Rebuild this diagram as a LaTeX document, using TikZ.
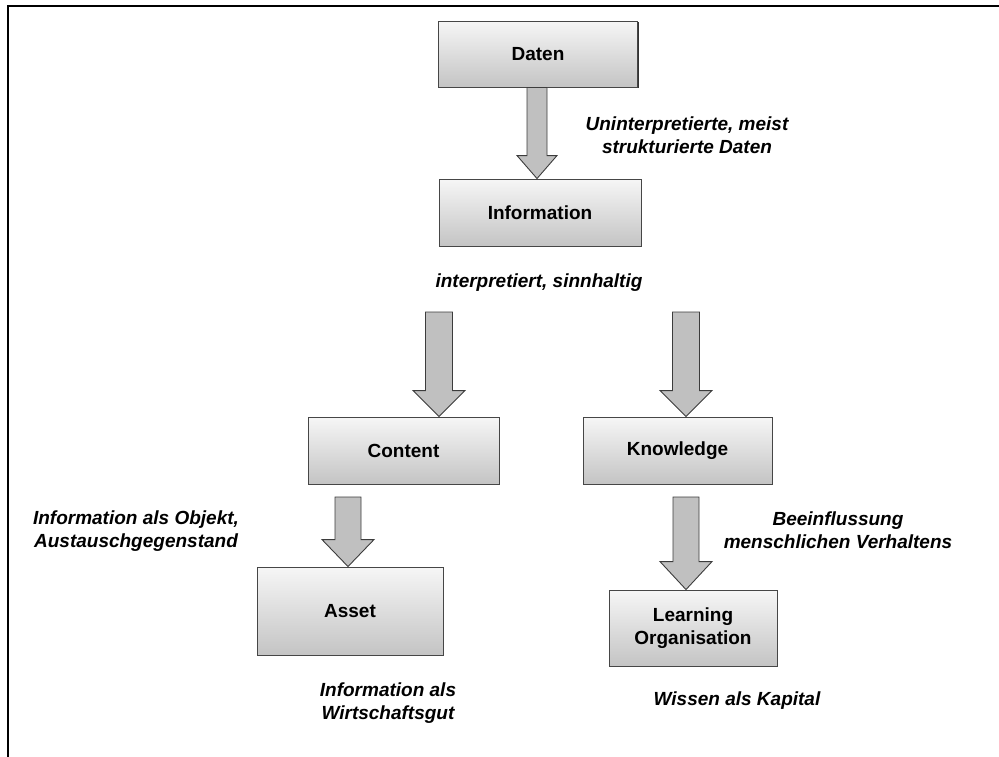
\documentclass[tikz,border=0pt]{standalone}
\usepackage{fontspec}
\setmainfont{Liberation Sans}
\usetikzlibrary{calc,shadows}

\definecolor{boxtop}{RGB}{246,246,246}
\definecolor{boxbottom}{RGB}{196,196,196}
\definecolor{boxline}{RGB}{70,70,70}
\definecolor{arrowfill}{RGB}{192,192,192}
\definecolor{arrowline}{RGB}{60,60,60}

\tikzset{
  stage/.style={draw=boxline, line width=0.9pt, top color=boxtop, bottom color=boxbottom,
    inner sep=0pt, align=center, font=\fontsize{19}{23}\selectfont\bfseries,
    drop shadow={shadow xshift=1.3pt, shadow yshift=-1.3pt, fill=black!80, opacity=1}},
  note/.style={inner sep=0pt, align=center, font=\fontsize{19}{23}\selectfont\bfseries\itshape},
  blockarrow/.style={draw=arrowline, line width=0.9pt, fill=arrowfill, line join=miter},
}

% vertical block arrow: #1 tail coordinate, #2 target node,
% #3 shaft half width, #4 head half width, #5 head length
\newcommand\blockarr[5]{%
  \path[blockarrow] let \p1=(#1), \p2=(#1 |- #2.north) in
    (\x1-#3pt,\y1) -- (\x1+#3pt,\y1) -- (\x1+#3pt,\y2+#5pt) -- (\x1+#4pt,\y2+#5pt)
    -- (\x2,\y2) -- (\x1-#4pt,\y2+#5pt) -- (\x1-#3pt,\y2+#5pt) -- cycle;}

\begin{document}
\begin{tikzpicture}[x=1pt,y=-1pt]
\useasboundingbox (0,0) rectangle (999,756);

% outer frame (top and left edges)
\draw[line width=2.6pt] (8,760) -- (8,6) -- (1003,6);

% stages
\node[stage, minimum width=199pt, minimum height=66pt] (daten) at (538,54) {Daten};
\node[stage, minimum width=202pt, minimum height=67pt] (info) at (540,212.5) {Information};
\node[stage, minimum width=191pt, minimum height=67pt] (content) at (403.5,450.5) {Content};
\node[stage, minimum width=189pt, minimum height=67pt] (knowledge) at (677.5,450.5) {Knowledge};
\node[stage, minimum width=186pt, minimum height=88pt] (asset) at (350,611) {Asset};
\node[stage, minimum width=168pt, minimum height=76pt] (learning) at (693,628) {Learning\\Organisation};

% annotations
\node[note] (n1) at (687,135.5) {Uninterpretierte, meist\\strukturierte Daten};
\node[note] (n2) at (539,283) {interpretiert, sinnhaltig};
\node[note] (n3) at (136,531) {Information als Objekt,\\Austauschgegenstand};
\node[note] (n4) at (838,530) {Beeinflussung\\menschlichen Verhaltens};
\node[note] (n5) at (388,703) {Information als\\Wirtschaftsgut};
\node[note] (n6) at (737,701) {Wissen als Kapital};

% arrow tails
\coordinate (t1) at (daten.south -| 537,0);
\coordinate (t2) at (439,312);
\coordinate (t3) at (686,312);
\coordinate (t4) at (348,497);
\coordinate (t5) at (686,497);

\blockarr{t1}{info}{10}{20}{23}
\blockarr{t2}{content}{13.5}{26}{26}
\blockarr{t3}{knowledge}{13.5}{26}{26}
\blockarr{t4}{asset}{13}{26}{27}
\blockarr{t5}{learning}{13}{26}{28}
\end{tikzpicture}
\end{document}
